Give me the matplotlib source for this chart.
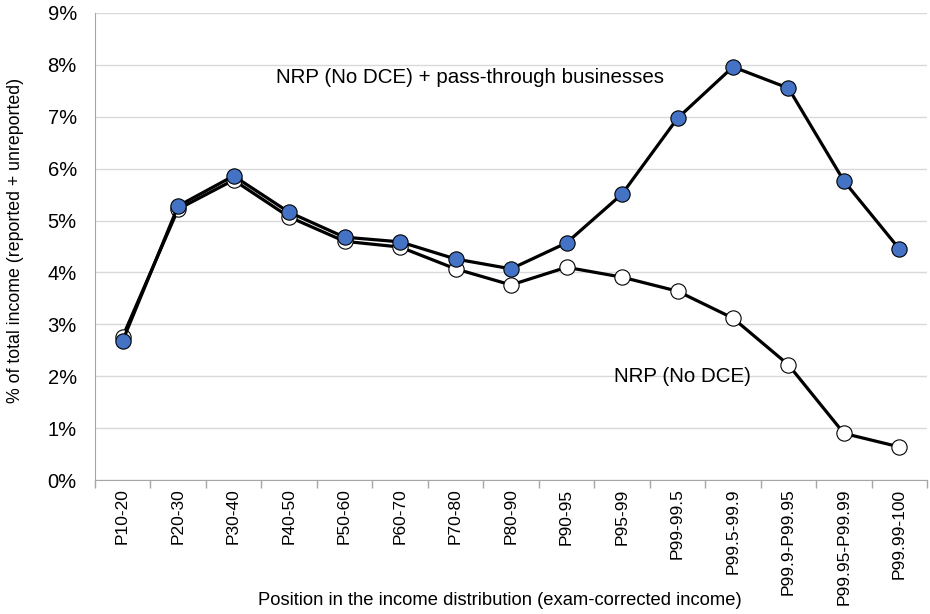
import matplotlib.pyplot as plt
import numpy as np
from matplotlib.ticker import FixedLocator, FuncFormatter

plt.rcParams['font.family'] = ['Liberation Sans', 'DejaVu Sans']

groups = ['P10-20', 'P20-30', 'P30-40', 'P40-50', 'P50-60', 'P60-70', 'P70-80',
          'P80-90', 'P90-95', 'P95-99', 'P99-99.5', 'P99.5-99.9', 'P99.9-P99.95',
          'P99.95-P99.99', 'P99.99-100']
nrp = [2.76, 5.22, 5.78, 5.07, 4.60, 4.49, 4.07, 3.76, 4.10, 3.91, 3.64, 3.12, 2.22, 0.90, 0.64]
nrp_pt = [2.68, 5.28, 5.86, 5.16, 4.68, 4.59, 4.26, 4.07, 4.57, 5.51, 6.97, 7.96, 7.55, 5.76, 4.45]

fig = plt.figure(figsize=(9.3, 6.14), dpi=100)
ax = fig.add_axes([0.102, 0.218, 0.895, 0.761])

x = np.arange(len(groups))
ax.plot(x, nrp, color='black', lw=2.3, marker='o', ms=11, mfc='white',
        mec='black', mew=0.8, zorder=3)
ax.plot(x, nrp_pt, color='black', lw=2.3, marker='o', ms=11, mfc='#4472C4',
        mec='black', mew=0.8, zorder=4)

ax.set_xlim(-0.5, len(groups) - 0.5)
ax.set_ylim(0, 9)
ax.set_yticks(range(10))
ax.yaxis.set_major_formatter(FuncFormatter(lambda v, p: f'{v:.0f}%'))
ax.tick_params(axis='y', length=0, labelsize=14.5, pad=13)
ax.grid(axis='y', color='#d9d9d9', lw=1)
ax.set_axisbelow(True)

ax.set_xticks(x)
ax.set_xticklabels(groups, rotation=90, fontsize=12.5)
ax.tick_params(axis='x', which='major', length=0, pad=6)
ax.xaxis.set_minor_locator(FixedLocator(np.arange(-0.5, len(groups), 1)))
ax.tick_params(axis='x', which='minor', length=6, color='#a6a6a6', width=1)

for s in ['top', 'right']:
    ax.spines[s].set_visible(False)
for s in ['left', 'bottom']:
    ax.spines[s].set_color('#a6a6a6')

fig.text(0.5376, 0.0228, 'Position in the income distribution (exam-corrected income)',
         fontsize=13.2, ha='center', va='center')
fig.text(16 / 930, 1 - 240 / 614, '% of total income (reported + unreported)',
         fontsize=12.8, rotation=90, ha='center', va='center')

ax.text(2.77, 7.65, 'NRP (No DCE) + pass-through businesses', fontsize=14.8)
ax.text(8.85, 1.9, 'NRP (No DCE)', fontsize=14.8)

fig.savefig('out.png', dpi=100)
